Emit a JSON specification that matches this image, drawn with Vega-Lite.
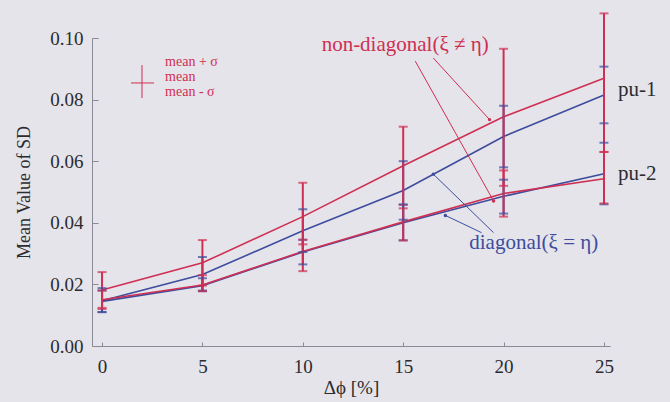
{
  "$schema": "https://vega.github.io/schema/vega-lite/v6.json",
  "autosize": {"type": "none"},
  "width": 518,
  "height": 308,
  "padding": {"left": 92, "right": 60, "top": 38, "bottom": 56},
  "background": "#e5e4ea",
  "config": {
    "view": {"stroke": null},
    "font": "Liberation Serif"
  },
  "datasets": {
    "series": [
      {"series": "d1", "group": "diagonal", "x": 0, "mean": 0.0147, "lo": 0.011, "hi": 0.0188},
      {"series": "d1", "group": "diagonal", "x": 5, "mean": 0.0232, "lo": 0.0178, "hi": 0.0289},
      {"series": "d1", "group": "diagonal", "x": 10, "mean": 0.0374, "lo": 0.0305, "hi": 0.0444},
      {"series": "d1", "group": "diagonal", "x": 15, "mean": 0.0505, "lo": 0.041, "hi": 0.060},
      {"series": "d1", "group": "diagonal", "x": 20, "mean": 0.068, "lo": 0.058, "hi": 0.078},
      {"series": "d1", "group": "diagonal", "x": 25, "mean": 0.0815, "lo": 0.0723, "hi": 0.0907},
      {"series": "d2", "group": "diagonal", "x": 0, "mean": 0.0145, "lo": 0.011, "hi": 0.018},
      {"series": "d2", "group": "diagonal", "x": 5, "mean": 0.0196, "lo": 0.018, "hi": 0.022},
      {"series": "d2", "group": "diagonal", "x": 10, "mean": 0.0305, "lo": 0.0265, "hi": 0.0345},
      {"series": "d2", "group": "diagonal", "x": 15, "mean": 0.040, "lo": 0.0343, "hi": 0.046},
      {"series": "d2", "group": "diagonal", "x": 20, "mean": 0.0486, "lo": 0.043, "hi": 0.054},
      {"series": "d2", "group": "diagonal", "x": 25, "mean": 0.0559, "lo": 0.046, "hi": 0.066},
      {"series": "nd1", "group": "non-diagonal", "x": 0, "mean": 0.0182, "lo": 0.0124, "hi": 0.024},
      {"series": "nd1", "group": "non-diagonal", "x": 5, "mean": 0.027, "lo": 0.0196, "hi": 0.0344},
      {"series": "nd1", "group": "non-diagonal", "x": 10, "mean": 0.042, "lo": 0.033, "hi": 0.053},
      {"series": "nd1", "group": "non-diagonal", "x": 15, "mean": 0.0585, "lo": 0.0458, "hi": 0.0712},
      {"series": "nd1", "group": "non-diagonal", "x": 20, "mean": 0.0744, "lo": 0.052, "hi": 0.0965},
      {"series": "nd1", "group": "non-diagonal", "x": 25, "mean": 0.0869, "lo": 0.063, "hi": 0.108},
      {"series": "nd2", "group": "non-diagonal", "x": 0, "mean": 0.015, "lo": 0.012, "hi": 0.018},
      {"series": "nd2", "group": "non-diagonal", "x": 5, "mean": 0.0198, "lo": 0.0178, "hi": 0.023},
      {"series": "nd2", "group": "non-diagonal", "x": 10, "mean": 0.0307, "lo": 0.0243, "hi": 0.0345},
      {"series": "nd2", "group": "non-diagonal", "x": 15, "mean": 0.0403, "lo": 0.0343, "hi": 0.0447},
      {"series": "nd2", "group": "non-diagonal", "x": 20, "mean": 0.0495, "lo": 0.042, "hi": 0.057},
      {"series": "nd2", "group": "non-diagonal", "x": 25, "mean": 0.0543, "lo": 0.0463, "hi": 0.063}
    ],
    "texts": [
      {"label": "non-diagonal(ξ ≠ η)", "group": "non-diagonal", "kind": "callout", "x": 15.1, "y": 0.0977},
      {"label": "diagonal(ξ = η)", "group": "diagonal", "kind": "callout", "x": 21.5, "y": 0.0334},
      {"label": "pu-1", "group": "plain", "kind": "end", "x": 25.7, "y": 0.083},
      {"label": "pu-2", "group": "plain", "kind": "end", "x": 25.7, "y": 0.056},
      {"label": "mean + σ", "group": "non-diagonal", "kind": "legend", "x": 3.14, "y": 0.0922},
      {"label": "mean", "group": "non-diagonal", "kind": "legend", "x": 3.14, "y": 0.0872},
      {"label": "mean - σ", "group": "non-diagonal", "kind": "legend", "x": 3.14, "y": 0.0825}
    ],
    "segments": [
      {"group": "non-diagonal", "kind": "arrow", "x": 16.5, "y": 0.0935, "x2": 19.3, "y2": 0.0735},
      {"group": "non-diagonal", "kind": "arrow", "x": 15.6, "y": 0.0925, "x2": 19.5, "y2": 0.0471},
      {"group": "diagonal", "kind": "arrow", "x": 19.5, "y": 0.0368, "x2": 16.5, "y2": 0.0558},
      {"group": "diagonal", "kind": "arrow", "x": 18.9, "y": 0.0368, "x2": 17.1, "y2": 0.0424},
      {"group": "non-diagonal", "kind": "legend", "x": 1.99, "y": 0.0805, "x2": 1.99, "y2": 0.0912},
      {"group": "non-diagonal", "kind": "legend", "x": 1.44, "y": 0.0854, "x2": 2.59, "y2": 0.0854}
    ]
  },
  "encoding": {
    "x": {"type": "quantitative"},
    "color": {
      "field": "group",
      "type": "nominal",
      "legend": null,
      "scale": {"domain": ["diagonal", "non-diagonal", "plain"], "range": ["#3d4c9e", "#cf2f52", "#2b2b30"]}
    }
  },
  "layer": [
    {
      "data": {"name": "series"},
      "mark": {"type": "line", "strokeWidth": 1.6},
      "encoding": {
        "x": {
          "field": "x", "type": "quantitative",
          "scale": {"domain": [-0.5, 25.3], "nice": false, "zero": false},
          "axis": {
            "values": [0, 5, 10, 15, 20, 25],
            "title": "Δϕ [%]",
            "titleFont": "Liberation Serif", "titleFontSize": 19, "titleFontWeight": "normal", "titleColor": "#2b2b30", "titlePadding": 2,
            "labelFont": "Liberation Serif", "labelFontSize": 19, "labelColor": "#2b2b30", "labelPadding": 15,
            "domainColor": "#8a8a96", "tickColor": "#8a8a96", "tickSize": -4, "grid": false
          }
        },
        "y": {
          "field": "mean", "type": "quantitative",
          "scale": {"domain": [0, 0.1], "nice": false, "zero": true},
          "axis": {
            "values": [0, 0.005, 0.01, 0.015, 0.02, 0.025, 0.03, 0.035, 0.04, 0.045, 0.05, 0.055, 0.06, 0.065, 0.07, 0.075, 0.08, 0.085, 0.09, 0.095, 0.1],
            "labelExpr": "abs(datum.value*50 - round(datum.value*50)) < 0.001 ? format(datum.value, '.2f') : ''",
            "tickSize": {"condition": {"test": "abs(datum.value*50 - round(datum.value*50)) < 0.001", "value": -6}, "value": -3},
            "title": "Mean Value of SD",
            "titleFont": "Liberation Serif", "titleFontSize": 18, "titleFontWeight": "normal", "titleColor": "#2b2b30", "titlePadding": 16,
            "labelFont": "Liberation Serif", "labelFontSize": 19, "labelColor": "#2b2b30", "labelPadding": 15,
            "domainColor": "#8a8a96", "tickColor": "#8a8a96", "grid": false
          }
        },
        "detail": {"field": "series"}
      }
    },
    {
      "data": {"name": "series"},
      "mark": {"type": "rule", "strokeWidth": 2},
      "encoding": {
        "x": {"field": "x", "type": "quantitative"},
        "y": {"field": "lo", "type": "quantitative"},
        "y2": {"field": "hi"}
      }
    },
    {
      "data": {"name": "series"},
      "mark": {"type": "tick", "orient": "horizontal", "size": 9, "thickness": 2},
      "encoding": {
        "x": {"field": "x", "type": "quantitative"},
        "y": {"field": "lo", "type": "quantitative"}
      }
    },
    {
      "data": {"name": "series"},
      "mark": {"type": "tick", "orient": "horizontal", "size": 9, "thickness": 2},
      "encoding": {
        "x": {"field": "x", "type": "quantitative"},
        "y": {"field": "hi", "type": "quantitative"}
      }
    },
    {
      "data": {"name": "segments"},
      "mark": {"type": "rule", "strokeWidth": 1},
      "encoding": {
        "x": {"field": "x", "type": "quantitative"},
        "y": {"field": "y", "type": "quantitative"},
        "x2": {"field": "x2"},
        "y2": {"field": "y2"}
      }
    },
    {
      "data": {"name": "segments"},
      "transform": [{"filter": "datum.kind === 'arrow'"}],
      "mark": {"type": "point", "filled": true, "size": 12, "opacity": 1},
      "encoding": {
        "x": {"field": "x2", "type": "quantitative"},
        "y": {"field": "y2", "type": "quantitative"}
      }
    },
    {
      "data": {"name": "texts"},
      "transform": [{"filter": "datum.kind === 'callout'"}],
      "mark": {"type": "text", "font": "Liberation Serif", "fontSize": 21, "align": "center", "baseline": "middle"},
      "encoding": {
        "x": {"field": "x", "type": "quantitative"},
        "y": {"field": "y", "type": "quantitative"},
        "text": {"field": "label"}
      }
    },
    {
      "data": {"name": "texts"},
      "transform": [{"filter": "datum.kind === 'end'"}],
      "mark": {"type": "text", "font": "Liberation Serif", "fontSize": 21, "align": "left", "baseline": "middle"},
      "encoding": {
        "x": {"field": "x", "type": "quantitative"},
        "y": {"field": "y", "type": "quantitative"},
        "text": {"field": "label"}
      }
    },
    {
      "data": {"name": "texts"},
      "transform": [{"filter": "datum.kind === 'legend'"}],
      "mark": {"type": "text", "font": "Liberation Serif", "fontSize": 14, "align": "left", "baseline": "middle"},
      "encoding": {
        "x": {"field": "x", "type": "quantitative"},
        "y": {"field": "y", "type": "quantitative"},
        "text": {"field": "label"}
      }
    }
  ]
}
